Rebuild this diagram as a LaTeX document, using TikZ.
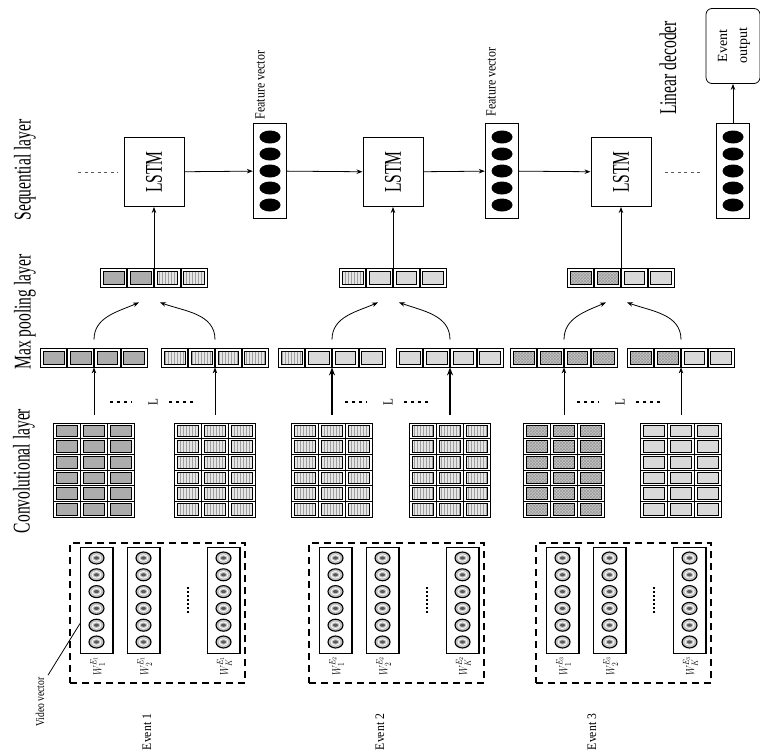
\documentclass[tikz,border=0pt]{standalone}
\usepackage{fontspec}
\setmainfont{Liberation Serif}
\usepackage{graphicx}
\usetikzlibrary{arrows.meta,positioning,calc,patterns}

% text turned to read upwards, squeezed along its length
\newcommand{\vtext}[2][0.65]{\rotatebox{90}{\scalebox{#1}[1]{#2}}}

\tikzset{
  layerlbl/.style={inner sep=0pt, font=\fontsize{24}{26}\selectfont},
  smalllbl/.style={inner sep=0pt, font=\fontsize{14}{16}\selectfont},
  evlbl/.style={inner sep=0pt, font=\fontsize{13}{15}\selectfont},
  wlbl/.style={inner sep=0pt, font=\fontsize{13}{15}\selectfont},
  lstmbox/.style={draw, line width=1pt, minimum width=60pt, minimum height=69pt,
    inner sep=0pt, font=\fontsize{24}{26}\selectfont},
  featbox/.style={draw, line width=1.4pt, minimum width=33pt, minimum height=95pt, inner sep=0pt},
  outbox/.style={draw, rounded corners=6pt, line width=0.8pt, minimum width=54pt,
    minimum height=75pt, inner sep=0pt, font=\fontsize{14}{20}\selectfont},
  vecbox/.style={draw, line width=0.8pt, minimum width=107pt, minimum height=19pt, inner sep=0pt},
  gridbox/.style={draw, line width=1pt, minimum width=81pt, minimum height=94pt, inner sep=0pt},
  eventbox/.style={draw, dash pattern=on 7pt off 5pt, line width=1.3pt,
    minimum width=175pt, minimum height=140pt, inner sep=0pt},
  colbox/.style={draw, line width=1pt, minimum width=32pt, minimum height=106pt, inner sep=0pt},
  cellA/.style={fill=gray!65, draw=black, line width=0.6pt},
  cellB/.style={preaction={fill=gray!20}, pattern=vertical lines, pattern color=gray!75,
    draw=black, line width=0.6pt},
  cellC/.style={fill=gray!30, draw=black, line width=0.6pt},
  cellD/.style={preaction={fill=gray!45}, pattern=crosshatch, pattern color=gray!80,
    draw=black, line width=0.6pt},
  disc/.style={fill=gray!50, draw=black, line width=1.1pt},
  link/.style={->, line width=0.8pt},
  biglink/.style={-{Stealth[length=8pt,width=6pt]}, line width=2.2pt},
  dotline/.style={gray!70!black, dash pattern=on 3pt off 3.5pt, line width=1pt},
  dashdots/.style={dash pattern=on 3pt off 4pt, line width=1.2pt},
  vdots/.style={dash pattern=on 1.5pt off 2.5pt, line width=1.6pt}
}

\begin{document}
\begin{tikzpicture}[x=1pt, y=-1pt, >={Stealth[length=6pt,width=4.5pt]}]
  \useasboundingbox (0,0) rectangle (760,752);

  %% Layer titles
  \node[layerlbl] (seq) at (25,170) {\vtext{Sequential layer}};
  \node[layerlbl] (maxp) at (25,312) {\vtext{Max pooling layer}};
  \node[layerlbl] (conv) at (24,471) {\vtext{Convolutional layer}};
  \node[layerlbl] (lindec) at (668,68) {\vtext{Linear decoder}};

  %% Sequential layer
  \foreach \e/\c in {1/154, 2/393, 3/621}
    \node[lstmbox] (lstm\e) at (\c,172) {\vtext{LSTM}};
  \foreach \f/\fx in {1/270, 2/502, 3/733}{
    \node[featbox] (fv\f) at (\fx,171) {};
    \foreach \j in {-2,...,2}
      \fill ({\fx},{171+\j*17}) ellipse [x radius=10.5pt, y radius=6.5pt];
  }
  \node[smalllbl] (fl1) at (260,85) {\vtext[0.85]{Feature vector}};
  \node[smalllbl] (fl2) at (491,82) {\vtext[0.85]{Feature vector}};
  \node[outbox] (out) at (733,46)
    {\vtext[1]{\begin{tabular}{@{}c@{}}Event\\output\end{tabular}}};

  \draw[link] (lstm1) -- (fv1);
  \draw[link] (fv1) -- (lstm2);
  \draw[link] (lstm2) -- (fv2);
  \draw[link] (fv2) -- (lstm3);
  \draw[link] (fv3) -- (out);
  \coordinate (dl) at (78,172);
  \coordinate (dr) at (702,172);
  \draw[dotline] (dl) -- ([xshift=-6pt]lstm1.west);
  \draw[dotline] ([xshift=13pt]lstm3.east) -- (dr);

  %% Max pooling layer: pooled vectors and their inputs
  \foreach \nm/\cx/\cy/\sa/\sb/\sc/\sd in {
      p1/154/277.5/cellA/cellA/cellB/cellB, p2/393/277.5/cellB/cellC/cellC/cellC,
      p3/621/277.5/cellD/cellD/cellC/cellC,
      va1/94/357.5/cellA/cellA/cellA/cellA, vb1/215/357.5/cellB/cellB/cellB/cellB,
      va2/332/357.5/cellB/cellC/cellC/cellC, vb2/450/357.5/cellC/cellC/cellC/cellC,
      va3/564/357.5/cellD/cellD/cellD/cellD, vb3/681/357.5/cellD/cellD/cellC/cellC}{
    \node[vecbox] (\nm) at (\cx,\cy) {};
    \foreach \k/\s in {0/\sa, 1/\sb, 2/\sc, 3/\sd}
      \path[\s] ({\cx-53.5+\k*26.75+3},{\cy-6.5}) rectangle ++(20.75,13);
    \foreach \k in {0,...,4}
      \draw[line width=1.8pt] ({\cx-53.5+\k*26.75},{\cy-9.5}) -- ++(0,19);
  }
  \foreach \e in {1,2,3}{
    \draw[link] ([yshift=8pt]va\e.north) to[out=90, in=204] ([xshift=-15pt,yshift=-15pt]p\e.south);
    \draw[link] ([yshift=8pt]vb\e.north) to[out=90, in=-20] ([xshift=6pt,yshift=-15pt]p\e.south);
    \draw[link] (p\e) -- (lstm\e);
  }

  %% Convolutional layer
  \foreach \nm/\cx/\sty in {ga1/94/cellA, gb1/215/cellB, ga2/332/cellB,
      gb2/450/cellB, ga3/564/cellD, gb3/681/cellC}{
    \node[gridbox] (\nm) at (\cx,470) {};
    \foreach \i in {0,1,2}
      \foreach \j in {0,...,5}
        \path[\sty] ({\cx-40.5+\i*27+3},{423+\j*15.67+2}) rectangle ++(21,11.67);
    \foreach \j in {1,...,5}
      \draw[line width=1pt] ({\cx-40.5},{423+\j*15.67}) -- ++(81,0);
    \foreach \i in {0,...,3}
      \draw[line width=1.8pt] ({\cx-40.5+\i*27},423) -- ++(0,94);
  }
  \foreach \e in {1,3}{
    \draw[link] ([yshift=8pt]ga\e.north) -- (va\e);
    \draw[link] ([yshift=8pt]gb\e.north) -- (vb\e);
  }
  \draw[biglink] ([yshift=8pt]ga2.north) -- (va2);
  \draw[biglink] ([yshift=8pt]gb2.north) -- (vb2);
  \foreach \e/\lx in {1/153, 2/388, 3/620}{
    \node[smalllbl] (L\e) at (\lx,402) {\vtext[0.8]{L}};
    \draw[dashdots] ([xshift=-43pt]L\e.center) -- ([xshift=-21pt]L\e.center);
    \draw[dashdots] ([xshift=16pt]L\e.center) -- ([xshift=40pt]L\e.center);
  }

  %% Video vectors of each event
  \foreach \e/\bx in {1/157.5, 2/396.5, 3/623.5}{
    \node[eventbox] (ev\e) at (\bx,613) {};
    \foreach \k/\dx/\sub in {1/-61/1, 2/-14/2, 3/66/K}{
      \node[colbox] (col\e\k) at ({\bx+\dx},600) {};
      \draw[line width=2.2pt] (col\e\k.north east) -- (col\e\k.south east);
      \foreach \j in {0,...,5}{
        \path[disc] ({\bx+\dx},{558+\j*16.8}) ellipse [x radius=7.5pt, y radius=6pt];
        \draw[white, line width=0.8pt] ({\bx+\dx},{558+\j*16.8}) ellipse [x radius=4.5pt, y radius=3.3pt];
        \fill[gray!70!black] ({\bx+\dx},{558+\j*16.8}) ellipse [x radius=2.5pt, y radius=1.6pt];
      }
      \node[wlbl] (w\e\k) at ({\bx+\dx+1},666) {\vtext[0.8]{$W_{\sub}^{E_{\e}}$}};
    }
    \draw[vdots] ({\bx+30.5},587) -- ({\bx+30.5},613);
  }
  \node[smalllbl, font=\fontsize{12}{14}\selectfont] (vv) at (40,702) {\vtext[0.8]{Video vector}};
  \draw[line width=0.8pt] ([xshift=8pt,yshift=2pt]vv.north) -- ([yshift=30pt]col11.south west);

  %% Event names
  \node[evlbl] (e1) at (147,732) {\vtext[0.9]{Event 1}};
  \node[evlbl] (e2) at (380,732) {\vtext[0.9]{Event 2}};
  \node[evlbl] (e3) at (592,732) {\vtext[0.9]{Event 3}};
\end{tikzpicture}
\end{document}
